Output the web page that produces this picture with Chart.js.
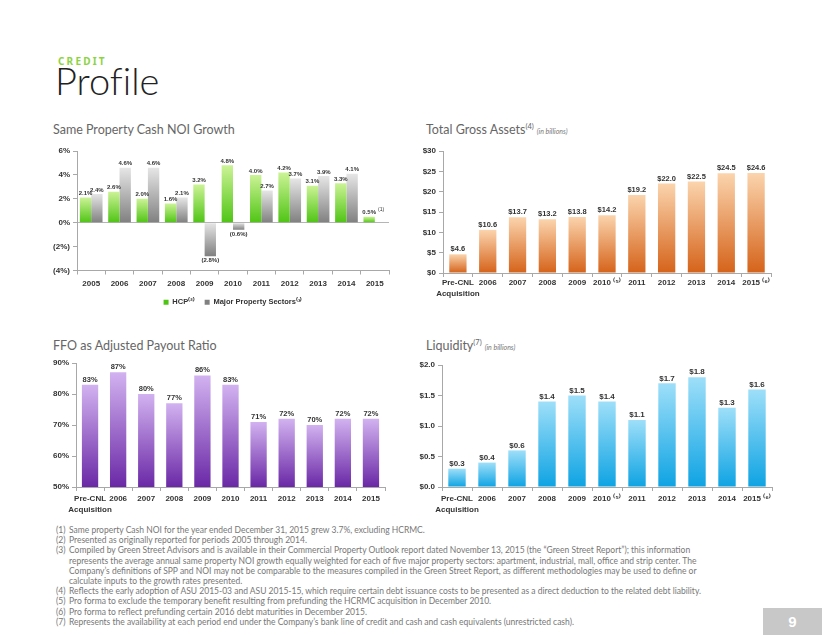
<!DOCTYPE html>
<html>
<head>
<meta charset="utf-8">
<script src="https://cdn.jsdelivr.net/npm/chart.js@4.4.1/dist/chart.umd.min.js"></script>
<style>
  html, body { margin: 0; padding: 0; background: #fff; }
  body { width: 822px; height: 635px; position: relative; overflow: hidden; font-family: "Liberation Sans", Arial, sans-serif; }
  .kicker { position: absolute; left: 58px; top: 54px; font: bold 10px "Noto Sans", sans-serif; letter-spacing: 2.2px; color: #8cd344; }
  .headline { position: absolute; left: 55px; top: 57px; font: 300 38px Lato, sans-serif; color: #222; font-variant-ligatures: none; }
  .title { position: absolute; font: 400 12.5px Lato, sans-serif; color: #666; white-space: nowrap; }
  .title sup { font-size: 7.5px; }
  .title em { font-size: 7px; color: #777; margin-left: 3px; }
  .box { position: absolute; }
  .notes { position: absolute; left: 56px; top: 525px; font: 8.5px/10.2px Lato, sans-serif; color: #777; }
  .note { display: flex; white-space: nowrap; }
  .note span { width: 13px; flex: none; }
  .page { position: absolute; left: 763px; top: 608px; width: 59px; height: 27px; background: #c8c8c8; color: #fff; font: bold 15px "Liberation Sans", sans-serif; text-align: center; line-height: 27px; }
</style>
</head>
<body>
<div class="kicker">CREDIT</div>
<div class="headline">Profile</div>

<div class="title" style="left:53px; top:122px;">Same Property Cash NOI Growth</div>
<div class="title" style="left:426px; top:122px;">Total Gross Assets<sup>(4)</sup><em>(in billions)</em></div>
<div class="title" style="left:53px; top:338px;">FFO as Adjusted Payout Ratio</div>
<div class="title" style="left:426px; top:338px;">Liquidity<sup>(7)</sup><em>(in billions)</em></div>

<div class="box" style="left:30px; top:141px; width:370px; height:175px;"><canvas id="noiChart"></canvas></div>
<div class="box" style="left:400px; top:141px; width:385px; height:160px;"><canvas id="assetsChart"></canvas></div>
<div class="box" style="left:30px; top:355px; width:370px; height:160px;"><canvas id="payoutChart"></canvas></div>
<div class="box" style="left:400px; top:355px; width:385px; height:160px;"><canvas id="liquidityChart"></canvas></div>

<div class="notes">
  <div class="note"><span>(1)</span>Same property Cash NOI for the year ended December 31, 2015 grew 3.7%, excluding HCRMC.</div>
  <div class="note"><span>(2)</span>Presented as originally reported for periods 2005 through 2014.</div>
  <div class="note"><span>(3)</span>Compiled by Green Street Advisors and is available in their Commercial Property Outlook report dated November 13, 2015 (the “Green Street Report”); this information</div>
  <div class="note"><span></span>represents the average annual same property NOI growth equally weighted for each of five major property sectors: apartment, industrial, mall, office and strip center. The</div>
  <div class="note"><span></span>Company’s definitions of SPP and NOI may not be comparable to the measures compiled in the Green Street Report, as different methodologies may be used to define or</div>
  <div class="note"><span></span>calculate inputs to the growth rates presented.</div>
  <div class="note"><span>(4)</span>Reflects the early adoption of ASU 2015-03 and ASU 2015-15, which require certain debt issuance costs to be presented as a direct deduction to the related debt liability.</div>
  <div class="note"><span>(5)</span>Pro forma to exclude the temporary benefit resulting from prefunding the HCRMC acquisition in December 2010.</div>
  <div class="note"><span>(6)</span>Pro forma to reflect prefunding certain 2016 debt maturities in December 2015.</div>
  <div class="note"><span>(7)</span>Represents the availability at each period end under the Company’s bank line of credit and cash and cash equivalents (unrestricted cash).</div>
</div>
<div class="page">9</div>

<script>
const noiYears = ["2005", "2006", "2007", "2008", "2009", "2010", "2011", "2012", "2013", "2014", "2015"];
const hcpGrowth = [2.1, 2.6, 2.0, 1.6, 3.2, 4.8, 4.0, 4.2, 3.1, 3.3, 0.5];
const sectorGrowth = [2.4, 4.6, 4.6, 2.1, -2.8, -0.6, 2.7, 3.7, 3.9, 4.1, null];
const hcpMarks = [null, null, null, null, null, null, null, null, null, null, "(1)"];
const noiTicks = [-4, -2, 0, 2, 4, 6];

const assetYears = [["Pre-CNL", "Acquisition"], "2006", "2007", "2008", "2009", "2010 ⁽⁵⁾", "2011", "2012", "2013", "2014", "2015 ⁽⁶⁾"];
const grossAssets = [4.6, 10.6, 13.7, 13.2, 13.8, 14.2, 19.2, 22.0, 22.5, 24.5, 24.6];
const assetTicks = [0, 5, 10, 15, 20, 25, 30];

const payoutYears = [["Pre-CNL", "Acquisition"], "2006", "2007", "2008", "2009", "2010", "2011", "2012", "2013", "2014", "2015"];
const payoutRatio = [83, 87, 80, 77, 86, 83, 71, 72, 70, 72, 72];
const payoutTicks = [50, 60, 70, 80, 90];

const liquidity = [0.3, 0.4, 0.6, 1.4, 1.5, 1.4, 1.1, 1.7, 1.8, 1.3, 1.6];
const liquidityTicks = [0, 0.5, 1.0, 1.5, 2.0];

const family = "'Liberation Sans', Arial, sans-serif";
const axisGray = "#a8a8a8";

// each bar gets its own light-to-dark fade
function fadeBar(light, dark) {
    return function (ctx) {
        const chart = ctx.chart;
        const area = chart.chartArea;
        if (ctx.type !== "data" || !area || !ctx.parsed || ctx.parsed.y == null) return dark;
        const y = chart.scales.y;
        const base = Math.min(area.bottom, y.getPixelForValue(0));
        const end = y.getPixelForValue(ctx.parsed.y);
        const top = Math.min(base, end);
        const bottom = Math.max(base, end);
        if (bottom - top < 1) return dark;
        const g = chart.ctx.createLinearGradient(0, top, 0, bottom);
        g.addColorStop(0, light);
        g.addColorStop(1, dark);
        return g;
    };
}

function valueLabels(format, font, gap, marks) {
    return {
        id: "valueLabels",
        afterDatasetsDraw(chart) {
            const ctx = chart.ctx;
            ctx.save();
            ctx.font = font;
            ctx.fillStyle = "#333";
            ctx.textAlign = "center";
            ctx.textBaseline = "middle";
            chart.data.datasets.forEach((ds, i) => {
                chart.getDatasetMeta(i).data.forEach((bar, j) => {
                    const v = ds.data[j];
                    if (v == null) return;
                    const text = format(v);
                    const y = v < 0 ? bar.y + gap : bar.y - gap;
                    ctx.fillText(text, bar.x, y);
                    if (marks && i === 0 && marks[j]) {
                        const w = ctx.measureText(text).width;
                        ctx.save();
                        ctx.font = "5px " + family;
                        ctx.textAlign = "left";
                        ctx.fillText(marks[j], bar.x + w / 2 + 2, y - 3);
                        ctx.restore();
                    }
                });
            });
            ctx.restore();
        }
    };
}

function tickSetter(values) {
    return scale => { scale.ticks = values.map(v => ({ value: v })); };
}

function xAxis(height, padding) {
    return {
        offset: true,
        grid: { offset: true, drawOnChartArea: false, tickLength: 4, color: axisGray },
        border: { color: axisGray },
        ticks: { color: "#333", padding: padding, maxRotation: 0, autoSkip: false, font: { family: family, size: 8, weight: "bold", lineHeight: 1.3 } },
        afterFit: s => { s.height = height; }
    };
}

function yAxis(min, max, values, width, fmt) {
    return {
        min: min,
        max: max,
        afterBuildTicks: tickSetter(values),
        grid: { color: "transparent", tickColor: axisGray, tickLength: 4 },
        border: { color: axisGray },
        ticks: { color: "#333", padding: 3, font: { family: family, size: 8, weight: "bold" }, callback: fmt },
        afterFit: s => { s.width = width; }
    };
}

const common = {
    responsive: true,
    maintainAspectRatio: false,
    animation: false,
    devicePixelRatio: 1,
    datasets: { bar: { categoryPercentage: 0.58, barPercentage: 1, borderWidth: 0 } },
    plugins: { legend: { display: false }, tooltip: { enabled: false } }
};

const noiY = yAxis(-4, 6, noiTicks, 47, v => v < 0 ? "(" + (-v) + "%)" : v + "%");
noiY.grid.color = ctx => (ctx.tick && ctx.tick.value === 0) ? "#b5b5b5" : "transparent";

new Chart(document.getElementById("noiChart"), {
    type: "bar",
    data: {
        labels: noiYears,
        datasets: [
            { label: "HCP⁽²⁾", data: hcpGrowth, backgroundColor: fadeBar("#ccf396", "#4fc414") },
            { label: "Major Property Sectors⁽³⁾", data: sectorGrowth, backgroundColor: fadeBar("#e6e6e6", "#808080") }
        ]
    },
    options: {
        ...common,
        layout: { padding: { top: 10, right: 11 } },
        datasets: { bar: { categoryPercentage: 0.8, barPercentage: 1, borderWidth: 0 } },
        plugins: {
            tooltip: { enabled: false },
            legend: {
                position: "bottom",
                fullSize: false,
                labels: { boxWidth: 5, boxHeight: 5, padding: 10, color: "#333", font: { family: family, size: 7.5, weight: "bold" } }
            }
        },
        scales: { x: xAxis(18, 4), y: noiY }
    },
    plugins: [valueLabels(v => v < 0 ? "(" + (-v).toFixed(1) + "%)" : v.toFixed(1) + "%", "bold 6px " + family, 4, hcpMarks)]
});

new Chart(document.getElementById("assetsChart"), {
    type: "bar",
    data: {
        labels: assetYears,
        datasets: [{ label: "Total Gross Assets", data: grossAssets, backgroundColor: fadeBar("#fbd4ad", "#d5631a") }]
    },
    options: {
        ...common,
        layout: { padding: { top: 10, right: 14 } },
        scales: { x: xAxis(28, 1), y: yAxis(0, 30, assetTicks, 43, v => "$" + v) }
    },
    plugins: [valueLabels(v => "$" + v.toFixed(1), "bold 7.5px " + family, 5)]
});

new Chart(document.getElementById("payoutChart"), {
    type: "bar",
    data: {
        labels: payoutYears,
        datasets: [{ label: "FFO as Adjusted Payout Ratio", data: payoutRatio, backgroundColor: fadeBar("#d2b2f0", "#6a28a6") }]
    },
    options: {
        ...common,
        layout: { padding: { top: 8, right: 15 } },
        scales: { x: xAxis(28, 3), y: yAxis(50, 90, payoutTicks, 46, v => v + "%") }
    },
    plugins: [valueLabels(v => v + "%", "bold 7.5px " + family, 5)]
});

new Chart(document.getElementById("liquidityChart"), {
    type: "bar",
    data: {
        labels: assetYears,
        datasets: [{ label: "Liquidity", data: liquidity, backgroundColor: fadeBar("#9edff9", "#0ea3e3") }]
    },
    options: {
        ...common,
        layout: { padding: { top: 10, right: 13 } },
        scales: { x: xAxis(28, 3), y: yAxis(0, 2, liquidityTicks, 42, v => "$" + v.toFixed(1)) }
    },
    plugins: [valueLabels(v => "$" + v.toFixed(1), "bold 8px " + family, 5)]
});
</script>
</body>
</html>
